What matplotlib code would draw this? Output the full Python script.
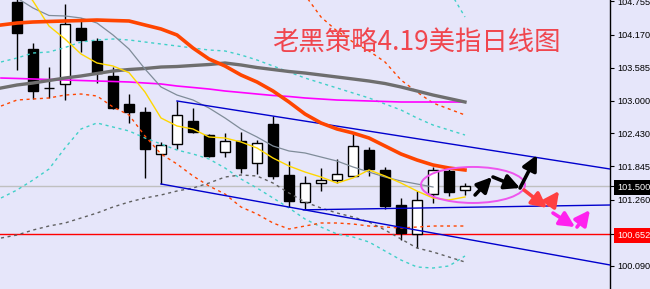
import numpy as np
import matplotlib
matplotlib.use("Agg")
import matplotlib.pyplot as plt
from matplotlib.patches import Ellipse

# ---------------- data ----------------
opens  = [104.746, 103.917, 103.229, 103.300, 104.288, 104.058, 103.441, 102.947, 102.806, 102.065,
          102.242, 102.647, 102.400, 102.101, 102.295, 101.907, 102.594, 101.695, 101.219, 101.554,
          101.607, 101.677, 102.136, 101.783, 101.166, 100.654, 101.360, 101.765, 101.430]
highs  = [104.850, 104.023, 103.600, 104.711, 104.464, 104.111, 103.600, 103.124, 102.894, 102.277,
          103.000, 102.877, 102.418, 102.436, 102.453, 102.312, 102.736, 101.942, 101.677, 101.818,
          101.977, 102.436, 102.189, 101.836, 101.289, 101.413, 101.836, 101.801, 101.554]
lows   = [103.547, 103.035, 103.053, 103.018, 103.864, 103.318, 102.860, 102.612, 101.642, 101.536,
          102.153, 102.436, 102.012, 102.012, 101.730, 101.713, 101.624, 101.131, 101.095, 101.413,
          101.554, 101.677, 101.677, 101.095, 100.549, 100.400, 101.201, 101.325, 101.342]
closes = [104.199, 103.176, 103.222, 104.358, 104.076, 103.494, 102.877, 102.806, 102.153, 102.224,
          102.753, 102.453, 102.030, 102.295, 101.818, 102.259, 101.677, 101.236, 101.554, 101.607,
          101.713, 102.206, 101.801, 101.148, 100.672, 101.254, 101.783, 101.395, 101.500]

# indicator lines sampled at bar index -1 .. 28
ma_orange = [104.340, 104.375, 104.393, 104.402, 104.411, 104.419, 104.428, 104.419, 104.411, 104.340,
             104.270, 104.164, 103.934, 103.740, 103.617, 103.458, 103.335, 103.176, 102.982, 102.770,
             102.612, 102.506, 102.435, 102.347, 102.206, 102.065, 101.959, 101.871, 101.818, 101.783]
ma_gray = [103.229, 103.282, 103.317, 103.361, 103.405, 103.441, 103.485, 103.529, 103.555, 103.573,
           103.599, 103.608, 103.626, 103.643, 103.670, 103.635, 103.590, 103.555, 103.520, 103.493,
           103.458, 103.423, 103.388, 103.352, 103.308, 103.247, 103.176, 103.105, 103.044, 102.982]
ma_magenta = [103.405, 103.397, 103.388, 103.379, 103.370, 103.361, 103.352, 103.344, 103.335, 103.317,
              103.300, 103.264, 103.238, 103.211, 103.176, 103.150, 103.123, 103.097, 103.079, 103.053,
              103.035, 103.017, 103.009, 103.000, 102.991, 102.982, 102.982, 102.982, 102.982, 102.982]
# index -1 .. 26
ma_slate = [104.957, 104.816, 104.640, 104.508, 104.499, 104.464, 104.375, 104.164, 103.917, 103.564,
            103.247, 103.105, 103.017, 102.876, 102.700, 102.506, 102.365, 102.206, 102.118, 102.083,
            102.012, 101.941, 101.836, 101.747, 101.659, 101.589, 101.536, 101.483]
# index 0 .. 28
ma_yellow = [105.116, 104.763, 104.322, 104.093, 103.829, 103.670, 103.617, 103.500, 103.158, 102.700,
             102.559, 102.506, 102.365, 102.347, 102.277, 102.171, 101.994, 101.853, 101.747, 101.659,
             101.553, 101.642, 101.783, 101.677, 101.553, 101.412, 101.289, 101.254, 101.307]
# index -1 .. 28
band_cyan_up = [103.688, 103.758, 103.846, 103.864, 103.943, 104.040, 104.076, 104.093, 104.076, 104.040,
                104.005, 103.970, 103.934, 103.899, 103.882, 103.811, 103.723, 103.617, 103.511, 103.405,
                103.317, 103.229, 103.141, 103.053, 102.947, 102.841, 102.700, 102.576, 102.488, 102.400]
band_cyan_lo = [101.289, 101.430, 101.606, 101.800, 102.171, 102.506, 102.612, 102.541, 102.471, 102.347,
                102.241, 102.135, 102.065, 101.977, 101.818, 101.624, 101.465, 101.289, 101.113, 100.918,
                100.777, 100.654, 100.601, 100.513, 100.354, 100.195, 100.072, 100.054, 100.090, 100.266]
band_orange_lo = [102.911, 103.017, 103.035, 103.053, 103.105, 103.123, 103.088, 102.894, 102.753, 102.382,
                  102.065, 101.889, 101.677, 101.501, 101.359, 101.130, 101.007, 100.848, 100.742, 100.795,
                  100.848, 100.848, 100.830, 100.795, 100.777, 100.760, 100.777, 100.795, 100.795, 100.795]
band_gray_lo = [100.583, 100.636, 100.724, 100.795, 100.848, 100.936, 101.024, 101.130, 101.218, 101.289,
                101.342, 101.412, 101.465, 101.553, 101.659, 101.695, 101.677, 101.553, 101.377, 101.218,
                101.113, 101.024, 100.954, 100.866, 100.724, 100.566, 100.407, 100.337, 100.248, 100.160]
# index 18 .. 28
band_orange_up = [104.869, 104.481, 104.234, 104.040, 103.882, 103.688, 103.370, 103.158, 102.964, 102.859, 102.753]
# index 27 .. 28
band_cyan_up2 = [104.957, 104.481]

# channel trend lines (start index, start price, second index, second price)
chan_upper = (10.0, 103.000, 28.0, 102.202)
chan_lower = (9.0, 101.536, 28.0, 100.569)
chan_mid = (17.9, 101.080, 28.0, 101.125)

bid_price = 101.500
level_price = 100.652

tick_values = [104.755, 104.170, 103.585, 103.000, 102.430, 101.845, 101.500, 101.260, 100.652, 100.090]
tick_labels = ["104.755", "104.170", "103.585", "103.000", "102.430", "101.845", "101.500", "101.260", "100.652", "100.090"]

title = "老黑策略4.19美指日线图"

# annotation arrows (tail index, tail price, head index, head price)
arrows_black = [(28.63, 101.342, 29.69, 101.659), (29.75, 101.659, 31.44, 101.465), (31.44, 101.465, 32.50, 102.047)]
arrows_red = [(31.69, 101.430, 33.13, 101.113), (33.25, 101.166, 33.88, 101.413)]
arrows_mag = [(33.50, 101.024, 34.88, 100.777), (35.00, 100.777, 35.81, 101.077)]
ellipse_c = (28.5, 101.519)
ellipse_wh = (6.5, 0.635)

# ---------------- plot ----------------
BG = "#E6E6FA"
fig = plt.figure(figsize=(6.5, 2.89), dpi=100)
fig.patch.set_facecolor(BG)
ax = fig.add_axes([0, 0, 610 / 650, 1])
ax.set_facecolor(BG)
ax.set_xlim(-1.0625, 37.0625)
ax.set_ylim(99.684, 104.781)

# horizontal lines
ax.axhline(bid_price, color="#C0C0C0", lw=1.0, zorder=1)
ax.axhline(level_price, color="#FF0000", lw=1.0, zorder=1)

# candles
n = len(opens)
idx = np.arange(n)
w = 0.66
for i in idx:
    o, h, l, c = opens[i], highs[i], lows[i], closes[i]
    ax.vlines(i, l, h, color="black", lw=1.0, zorder=2)
    bull = c >= o
    bottom = min(o, c)
    height = abs(c - o)
    if height < 0.01:
        ax.hlines(c, i - w / 2, i + w / 2, color="black", lw=1.0, zorder=3)
    else:
        ax.bar(i, height, bottom=bottom, width=w, color="white" if bull else "black",
               edgecolor="black", lw=1.0, zorder=3)

x_full = np.arange(-1, 29)
dash = (0, (2.2, 2.6))
ax.plot(x_full, band_cyan_up, color="#40D0C8", lw=1.0, ls=dash, zorder=4)
ax.plot(x_full, band_cyan_lo, color="#40D0C8", lw=1.0, ls=dash, zorder=4)
ax.plot(x_full, band_orange_lo, color="#FF4500", lw=1.0, ls=dash, zorder=4)
ax.plot(x_full, band_gray_lo, color="#606060", lw=1.0, ls=dash, zorder=4)
ax.plot(np.arange(18, 29), band_orange_up, color="#FF4500", lw=1.0, ls=dash, zorder=4)
ax.plot(np.arange(27, 29), band_cyan_up2, color="#40D0C8", lw=1.0, ls=dash, zorder=4)

ax.plot(x_full, ma_magenta, color="#FF00FF", lw=1.2, zorder=5)
ax.plot(x_full, ma_gray, color="#6E6E6E", lw=2.4, zorder=5)
ax.plot(np.arange(-1, len(ma_slate) - 1), ma_slate, color="#7F8C99", lw=0.9, zorder=5)
ax.plot(np.arange(0, len(ma_yellow)), ma_yellow, color="#FFD700", lw=1.0, zorder=5)
ax.plot(x_full, ma_orange, color="#FF4500", lw=2.6, zorder=6)

# channel lines extended to the right edge
xr = 37.0625
for (x0, y0, x1, y1) in (chan_upper, chan_lower, chan_mid):
    s = (y1 - y0) / (x1 - x0)
    ax.plot([x0, xr], [y0, y0 + s * (xr - x0)], color="#0000CD", lw=1.0, zorder=5)

# ellipse and arrows
ax.add_patch(Ellipse(ellipse_c, ellipse_wh[0], ellipse_wh[1], fill=False,
                     edgecolor="#EE55EE", lw=1.4, zorder=7))
for group, col in ((arrows_black, "black"), (arrows_red, "#FF4040"), (arrows_mag, "#FF22EE")):
    for (x0, y0, x1, y1) in group:
        ax.annotate("", xy=(x1, y1), xytext=(x0, y0),
                    arrowprops=dict(arrowstyle="-|>,head_length=0.9,head_width=0.45", lw=2.6,
                                    color=col, shrinkA=0, shrinkB=0, mutation_scale=10),
                    zorder=8)

# title text
ax.text(272 / 610, 1 - 42 / 289, title, transform=ax.transAxes, fontsize=19, color="#F0464E",
        ha="left", va="center", family=["Noto Sans CJK SC", "DejaVu Sans"], zorder=9)

# axes styling
for sp in ("top", "left", "bottom"):
    ax.spines[sp].set_visible(False)
ax.spines["right"].set_color("black")
ax.spines["right"].set_linewidth(1.0)
ax.set_xticks([])
ax.yaxis.tick_right()
ax.set_yticks(tick_values)
ax.set_yticklabels(tick_labels)
ax.tick_params(axis="y", direction="out", length=3, width=0.8, pad=2, labelsize=6.6, colors="black")
for lab in ax.get_yticklabels():
    lab.set_family("Liberation Sans")
    t = lab.get_text()
    if t == "101.500":
        lab.set_color("white")
        lab.set_bbox(dict(facecolor="black", edgecolor="none", pad=2.2))
    elif t == "100.652":
        lab.set_color("white")
        lab.set_bbox(dict(facecolor="#FF0000", edgecolor="none", pad=2.2))

fig.savefig("out.png", dpi=100, facecolor=BG)
